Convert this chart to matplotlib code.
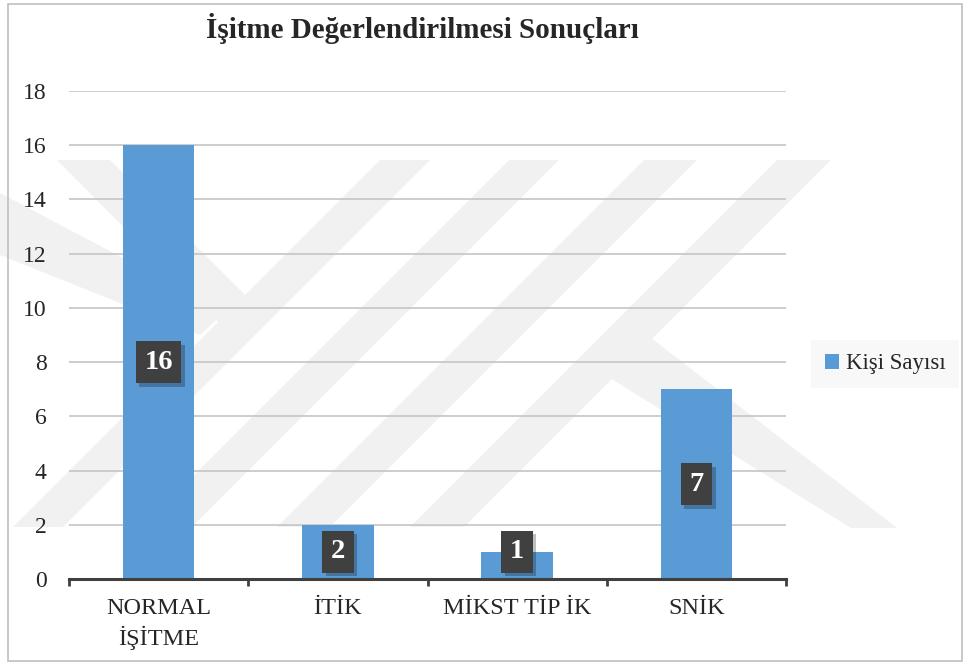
import matplotlib
matplotlib.use("Agg")
import matplotlib.pyplot as plt
from matplotlib.patches import Polygon, Rectangle
import matplotlib.patheffects as pe

categories = ["NORMAL\nİŞİTME", "İTİK", "MİKST TİP İK", "SNİK"]
counts = [16, 2, 1, 7]
series_name = "Kişi Sayısı"
title = "İşitme Değerlendirilmesi Sonuçları"
yticks = [0, 2, 4, 6, 8, 10, 12, 14, 16, 18]

SERIF = ["Liberation Serif", "DejaVu Serif"]
plt.rcParams["font.family"] = SERIF

W, H = 969, 666
fig = plt.figure(figsize=(W / 100, H / 100), dpi=100)

# background layer in pixel units (y downward) for the faint watermark and frame
bg = fig.add_axes([0, 0, 1, 1], zorder=0)
bg.set_xlim(0, W)
bg.set_ylim(H, 0)
bg.axis("off")

wm = "#f1f1f1"
shapes = [
    # long "/" bands
    [(380, 160), (430, 160), (63, 527), (13, 527)],
    [(509, 160), (559, 160), (192, 527), (142, 527)],
    [(644, 160), (697, 160), (330, 527), (277, 527)],
    [(777, 160), (831, 160), (464, 527), (410, 527)],
    # left arm of the chevron
    [(57, 160), (110, 160), (245, 295), (243, 347)],
    # left "\" band
    [(0, 193), (0, 255), (200, 335), (225, 312)],
    # right "\" leg
    [(651, 338), (897, 528), (851, 528), (610, 378)],
]
for pts in shapes:
    bg.add_patch(Polygon(pts, closed=True, facecolor=wm, edgecolor="none"))

bg.add_patch(Rectangle((8, 4), 954, 657, facecolor="none",
                       edgecolor="#bfbfbf", lw=1.2))

ax = fig.add_axes([69 / W, 1 - 579 / H, (786 - 69) / W, (579 - 91) / H], zorder=1)
ax.patch.set_alpha(0)

x = list(range(len(categories)))
bars = ax.bar(x, counts, width=0.4, color="#5b9bd5", zorder=3)

ax.set_xlim(-0.5, len(categories) - 0.5)
ax.set_ylim(0, 18)
ax.set_yticks(yticks)
ax.set_yticklabels([str(v) for v in yticks])
ax.yaxis.grid(True, color="#c9c9c9", lw=1.3, zorder=1)
ax.set_axisbelow(True)

for side in ("left", "right", "top"):
    ax.spines[side].set_visible(False)
ax.spines["bottom"].set_color("#404040")
ax.spines["bottom"].set_linewidth(2.2)
ax.spines["bottom"].set_zorder(4)

ax.tick_params(axis="y", length=0, pad=16, labelsize=17, labelcolor="#262626")
ax.set_xticks(x)
ax.set_xticklabels(categories, fontsize=17.5, color="#262626", linespacing=1.35)
ax.tick_params(axis="x", which="major", length=0, pad=14)
ax.set_xticks([i - 0.5 for i in range(len(categories) + 1)], minor=True)
ax.tick_params(axis="x", which="minor", length=5, width=2, color="#404040",
               direction="out")

# value labels in dark boxes, centred on each bar
for xi, v in zip(x, counts):
    yc = max(v / 2, 1.0)
    t = ax.text(xi, yc, str(v), ha="center", va="center", fontsize=20.5,
                fontweight="bold", color="white", zorder=6,
                bbox=dict(boxstyle="square,pad=0.3", facecolor="#404040",
                          edgecolor="none"))
    t.get_bbox_patch().set_path_effects([
        pe.SimplePatchShadow(offset=(2.5, -2.5), shadow_rgbFace="#000000",
                             alpha=0.25),
        pe.Normal(),
    ])

fig.text(422 / W, 1 - 29 / H, title, ha="center", va="center",
         fontsize=21, fontweight="bold", color="#262626")

leg = fig.legend([bars], [series_name], loc="center left",
                 bbox_to_anchor=(818 / W, 1 - 364 / H), frameon=True,
                 fontsize=16.5, handlelength=0.6, handleheight=0.6,
                 handletextpad=0.3, borderpad=0.3, borderaxespad=0)
leg.get_frame().set_facecolor("#f7f7f7")
leg.get_frame().set_edgecolor("none")
leg.get_frame().set_boxstyle("square")
for txt in leg.get_texts():
    txt.set_color("#262626")

fig.savefig("out.png", dpi=100, facecolor="white")
